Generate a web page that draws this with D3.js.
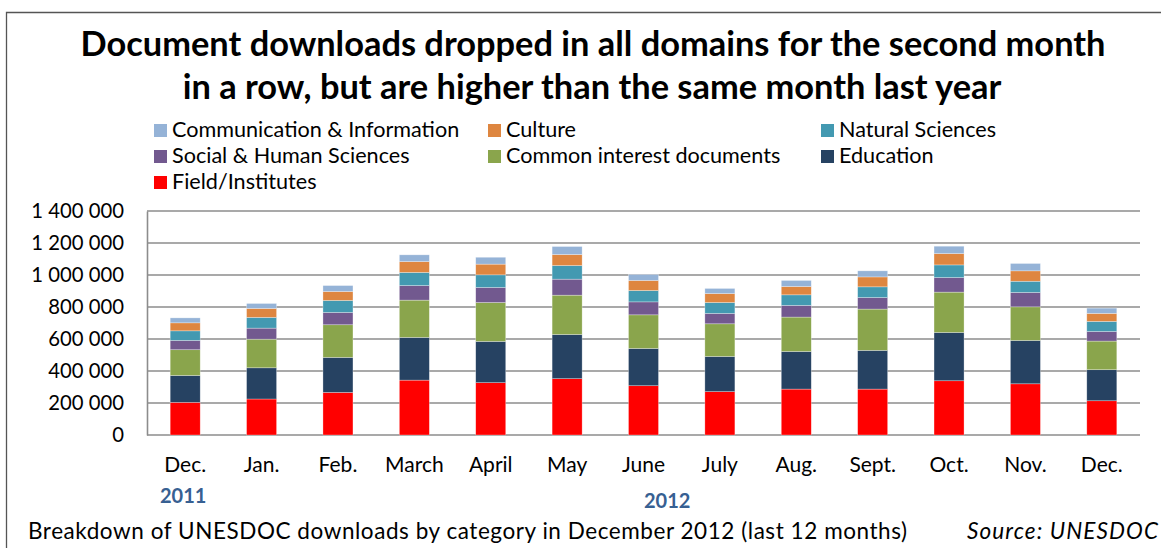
<!DOCTYPE html>
<html>
<head>
<meta charset="utf-8">
<script src="https://d3js.org/d3.v7.min.js"></script>
<style>
  html, body { margin: 0; padding: 0; background: #fff; overflow: hidden; }
  svg { display: block; }
  text { font-family: Lato, "DejaVu Sans", sans-serif; fill: #000; }
</style>
</head>
<body>
<script>
// data
var months = ["Dec.", "Jan.", "Feb.", "March", "April", "May", "June", "July", "Aug.", "Sept.", "Oct.", "Nov.", "Dec."];
var field      = [204000, 225000, 266000, 343000, 327000, 352000, 308000, 271000, 287000, 287000, 339000, 320000, 214000];
var education  = [168000, 195000, 219000, 267000, 258000, 276000, 233000, 220000, 235000, 242000, 302000, 271000, 194000];
var common     = [161000, 179000, 204000, 233000, 243000, 246000, 210000, 204000, 215000, 258000, 252000, 210000, 179000];
var social     = [58000, 69000, 77000, 91000, 94000, 100000, 81000, 65000, 73000, 72000, 91000, 90000, 60000];
var natural    = [60000, 67000, 75000, 82000, 79000, 85000, 71000, 68000, 66000, 67000, 79000, 70000, 63000];
var culture    = [50000, 56000, 56000, 68000, 67000, 69000, 63000, 56000, 52000, 62000, 71000, 65000, 50000];
var commInfo   = [31000, 31000, 37000, 42000, 43000, 50000, 37000, 32000, 38000, 38000, 46000, 46000, 33000];
var yTicks = [0, 200000, 400000, 600000, 800000, 1000000, 1200000, 1400000];

var seriesNames = ["Field/Institutes", "Education", "Common interest documents", "Social & Human Sciences",
                   "Natural Sciences", "Culture", "Communication & Information"];
var seriesValues = [field, education, common, social, natural, culture, commInfo];
var colors = ["#ff0000", "#264262", "#8aa54c", "#72598f", "#4399b1", "#de8640", "#95b3d7"];

var width = 1161, height = 548;
var margin = { left: 147, top: 211, right: 21, bottom: 113 };
var innerWidth = width - margin.left - margin.right;
var innerHeight = height - margin.top - margin.bottom;

var svg = d3.select("body").append("svg")
  .attr("width", width)
  .attr("height", height);

// outer frame (only top and left edges show)
svg.append("path")
  .attr("d", "M6.5," + height + "V12.5H" + width)
  .attr("fill", "none").attr("stroke", "#555").attr("stroke-width", 1.3);

// title
var title = svg.append("g").attr("text-anchor", "middle").style("font-weight", "bold").style("font-size", "34.4px");
title.append("text").attr("x", 593).attr("y", 56).text("Document downloads dropped in all domains for the second month");
title.append("text").attr("x", 592).attr("y", 99).text("in a row, but are higher than the same month last year");

// legend
var legendItems = [
  { name: "Communication & Information", i: 6, x: 154, y: 137 },
  { name: "Culture", i: 5, x: 488, y: 137 },
  { name: "Natural Sciences", i: 4, x: 821, y: 137 },
  { name: "Social & Human Sciences", i: 3, x: 154, y: 163 },
  { name: "Common interest documents", i: 2, x: 488, y: 163 },
  { name: "Education", i: 1, x: 821, y: 163 },
  { name: "Field/Institutes", i: 0, x: 154, y: 189 }
];
var lg = svg.append("g").selectAll("g").data(legendItems).enter().append("g")
  .attr("transform", function(d) { return "translate(" + d.x + "," + d.y + ")"; });
lg.append("rect").attr("x", 0).attr("y", -13).attr("width", 13).attr("height", 13)
  .attr("fill", function(d) { return colors[d.i]; });
lg.append("text").attr("x", 18).attr("y", 0).style("font-size", "21.6px").text(function(d) { return d.name; });

var g = svg.append("g").attr("transform", "translate(" + margin.left + "," + margin.top + ")");

var xScale = d3.scaleBand().domain(d3.range(months.length)).range([0, innerWidth])
  .paddingInner(0.607).paddingOuter(0.3035);
var yScale = d3.scaleLinear().domain([0, 1400000]).range([innerHeight, 0]);

// gridlines
g.append("g").selectAll("line").data(yTicks).enter().append("line")
  .attr("x1", 0).attr("x2", innerWidth)
  .attr("y1", function(d) { return yScale(d); }).attr("y2", function(d) { return yScale(d); })
  .attr("stroke", "#8c8c8c").attr("stroke-width", 1.6);

// y axis
var fmt = function(d) { return d3.format(",")(d).replace(/,/g, " "); };
var yAxisG = g.append("g").call(d3.axisLeft(yScale).tickValues(yTicks).tickFormat(fmt).tickSize(0).tickPadding(23));
yAxisG.select(".domain").attr("stroke", "#8c8c8c").attr("stroke-width", 1.6);
yAxisG.selectAll("text").style("font-size", "20.3px").style("font-family", "Lato, sans-serif").attr("fill", "#000");

// stacked bars
var rows = months.map(function(m, j) {
  var r = { idx: j };
  seriesNames.forEach(function(s, k) { r[s] = seriesValues[k][j]; });
  return r;
});
var stack = d3.stack().keys(seriesNames)(rows);

g.append("g").selectAll("g").data(stack).enter().append("g")
  .attr("fill", function(d, k) { return colors[k]; })
  .selectAll("rect").data(function(d) { return d; }).enter().append("rect")
  .attr("x", function(d) { return xScale(d.data.idx); })
  .attr("width", xScale.bandwidth())
  .attr("y", function(d) { return yScale(d[1]); })
  .attr("height", function(d) { return yScale(d[0]) - yScale(d[1]); })
  .attr("stroke", "#ffffff").attr("stroke-opacity", 0.5).attr("stroke-width", 0.6);

// x labels
var xAxisG = g.append("g").attr("transform", "translate(0," + innerHeight + ")")
  .call(d3.axisBottom(xScale).tickFormat(function(i) { return months[i]; }).tickSize(0).tickPadding(22));
xAxisG.select(".domain").remove();
xAxisG.selectAll("text").style("font-size", "21px").style("font-family", "Lato, sans-serif").attr("fill", "#000");

// year labels
g.append("text").attr("x", xScale(0) + xScale.bandwidth() / 2 - 2).attr("y", 503 - margin.top)
  .attr("text-anchor", "middle").style("font-weight", "bold").style("font-size", "20px")
  .style("fill", "#376092").text("2011");
g.append("text").attr("x", xScale(6) + xScale.bandwidth() / 2 + xScale.step() * 0.31).attr("y", 508 - margin.top)
  .attr("text-anchor", "middle").style("font-weight", "bold").style("font-size", "20px")
  .style("fill", "#376092").text("2012");

// footer
svg.append("text").attr("x", 28).attr("y", 539).style("font-size", "22.5px")
  .attr("textLength", 879).attr("lengthAdjust", "spacing")
  .text("Breakdown of UNESDOC downloads by category in December 2012 (last 12 months)");
svg.append("text").attr("x", 1158).attr("y", 539).attr("text-anchor", "end")
  .style("font-size", "22.5px").style("font-style", "italic")
  .attr("textLength", 191).attr("lengthAdjust", "spacing").text("Source: UNESDOC");
</script>
</body>
</html>
